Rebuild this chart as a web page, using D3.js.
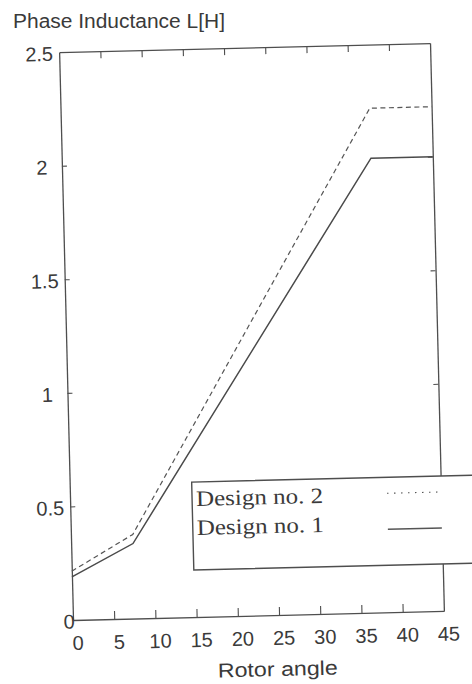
<!DOCTYPE html>
<html>
<head>
<meta charset="utf-8">
<script src="https://cdn.jsdelivr.net/npm/d3@7/dist/d3.min.js"></script>
<style>
  html, body { margin: 0; padding: 0; background: #ffffff; }
  svg { display: block; }
  text { fill: #3a3a3a; }
</style>
</head>
<body>
<svg id="chart" width="472" height="684"></svg>
<script>
// ---- data ----
const rotorAngle = [0, 7.5, 37.5, 45];
const design1 = [0.19, 0.33, 2.0, 2.0];     // solid
const design2 = [0.215, 0.37, 2.22, 2.22];  // dashed
const xTicks = [0, 5, 10, 15, 20, 25, 30, 35, 40, 45];
const yTicks = [0, 0.5, 1, 1.5, 2, 2.5];
const yTickLabels = ["0", "0.5", "1", "1.5", "2", "2.5"];
const seriesNames = ["Design no. 2", "Design no. 1"];
const yTitle = "Phase Inductance L[H]";
const xTitle = "Rotor angle";

(function () {
const svg = d3.select("#chart");
const ink = "#4e4e4e";
const sans = "'Liberation Sans', Arial, sans-serif";
const serif = "'Liberation Serif', 'Times New Roman', serif";

const pLeft = 73, pRight = 444, pTop = 52, pBottom = 620;
const x = d3.scaleLinear().domain([0, 45]).range([pLeft, pRight]);
const y = d3.scaleLinear().domain([0, 2.5]).range([pBottom, pTop]);

// y title (not rotated)
svg.append("text")
  .attr("x", 13).attr("y", 28)
  .style("font-family", sans).style("font-size", "20px")
  .attr("textLength", 212).attr("lengthAdjust", "spacingAndGlyphs")
  .text(yTitle);

// the scanned plot is slightly tilted
const g = svg.append("g").attr("transform", `rotate(-1.4, ${pLeft}, ${pBottom})`);

function styleAxis(sel) {
  sel.select(".domain").attr("stroke", ink).attr("stroke-width", 1.3);
  sel.selectAll(".tick line").attr("stroke", ink).attr("stroke-width", 1.1);
}

// bottom axis
const gx = g.append("g").attr("transform", `translate(0,${pBottom})`)
  .call(d3.axisBottom(x).tickValues(xTicks).tickSizeInner(-8).tickSizeOuter(0).tickPadding(30));
styleAxis(gx);
gx.selectAll(".tick line").filter(d => d === 0 || d === 45).remove();
gx.selectAll(".tick text")
  .attr("y", 30).attr("dy", 0).attr("dx", 4)
  .style("font-size", "20px").style("font-family", sans)
  .attr("fill", "#3a3a3a");

// top axis
const gt = g.append("g").attr("transform", `translate(0,${pTop})`)
  .call(d3.axisTop(x).tickValues(xTicks.slice(1, -1)).tickSizeInner(-7).tickSizeOuter(0).tickFormat(""));
styleAxis(gt);

// left axis
const gy = g.append("g").attr("transform", `translate(${pLeft},0)`)
  .call(d3.axisLeft(y).tickValues(yTicks).tickSizeInner(-5).tickSizeOuter(0)
    .tickFormat((d, i) => yTickLabels[i]));
styleAxis(gy);
gy.selectAll(".tick line").filter(d => d === 0 || d === 2.5).remove();
gy.selectAll(".tick text")
  .attr("text-anchor", "middle")
  .attr("x", d => d === 0 ? -4 : -20)
  .attr("dy", "0.4em")
  .style("font-size", "20px").style("font-family", sans)
  .attr("fill", "#3a3a3a");

// right axis
const gr = g.append("g").attr("transform", `translate(${pRight},0)`)
  .call(d3.axisRight(y).tickValues(yTicks.slice(1, -1)).tickSizeInner(-5).tickSizeOuter(0).tickFormat(""));
styleAxis(gr);

// x title
g.append("text")
  .attr("x", (pLeft + pRight) / 2 + 18).attr("y", pBottom + 61)
  .attr("text-anchor", "middle")
  .style("font-family", sans).style("font-size", "20px")
  .attr("textLength", 120).attr("lengthAdjust", "spacingAndGlyphs")
  .text(xTitle);

// curves
const line = d3.line().x(d => x(d[0])).y(d => y(d[1]));
g.append("path")
  .datum(rotorAngle.map((a, i) => [a, design2[i]]))
  .attr("d", line).attr("fill", "none")
  .attr("stroke", "#555").attr("stroke-width", 1.2)
  .attr("stroke-dasharray", "5,3.5");
g.append("path")
  .datum(rotorAngle.map((a, i) => [a, design1[i]]))
  .attr("d", line).attr("fill", "none")
  .attr("stroke", "#4a4a4a").attr("stroke-width", 1.5);

// legend
const lg = g.append("g");
lg.append("rect")
  .attr("x", 195).attr("y", 485).attr("width", 320).attr("height", 88)
  .attr("fill", "#ffffff").attr("stroke", ink).attr("stroke-width", 1.4);
const legendStyles = [
  { dash: "1.5,5.5", w: 1.1, ly: 501, ty: 509 },
  { dash: null, w: 1.5, ly: 537, ty: 538 }
];
seriesNames.forEach((name, i) => {
  const s = legendStyles[i];
  lg.append("text")
    .attr("x", 199).attr("y", s.ty)
    .style("font-family", serif).style("font-size", "22px")
    .attr("textLength", 127).attr("lengthAdjust", "spacingAndGlyphs")
    .text(name);
  const l = lg.append("line")
    .attr("x1", 390).attr("x2", 444).attr("y1", s.ly).attr("y2", s.ly)
    .attr("stroke", "#555").attr("stroke-width", s.w);
  if (s.dash) l.attr("stroke-dasharray", s.dash);
});
})();
</script>
</body>
</html>
